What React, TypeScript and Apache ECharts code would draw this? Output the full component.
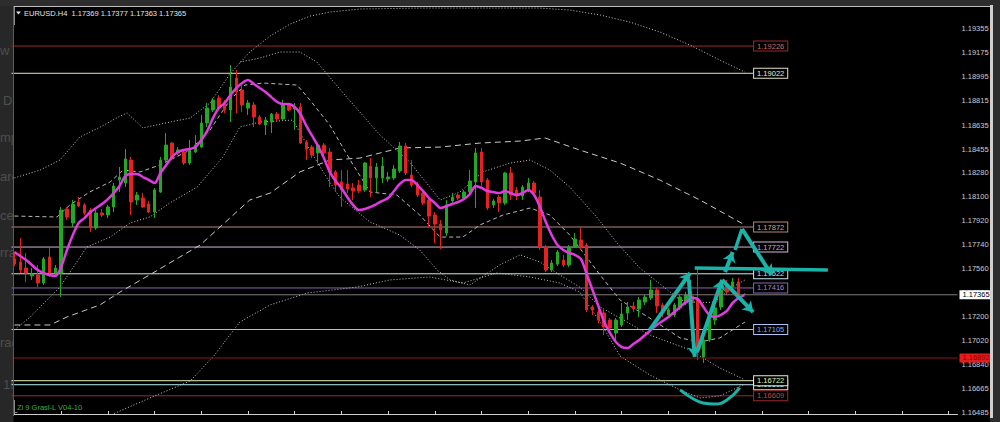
import React, { useEffect, useRef } from "react";
import * as echarts from "echarts";

// ---------- data ----------
const SLOT_COUNT = 162;
const slots = Array.from({ length: SLOT_COUNT }, (_, i) => `${i}`);

// [open, close, low, high]
const candles: number[][] = [
  [1.17633, 1.17595, 1.1758, 1.17685], [1.1761, 1.1755, 1.17528, 1.1779], [1.17565, 1.17528, 1.17461, 1.17678],
  [1.17506, 1.1752, 1.17476, 1.17565], [1.17513, 1.17453, 1.17423, 1.17588], [1.17453, 1.17633, 1.17438, 1.17648],
  [1.17648, 1.17528, 1.17498, 1.17715], [1.17528, 1.17565, 1.17498, 1.17588], [1.17528, 1.17999, 1.17348, 1.18022],
  [1.18007, 1.17947, 1.17924, 1.18022], [1.17902, 1.18044, 1.17872, 1.18074], [1.18059, 1.18029, 1.18022, 1.18096],
  [1.18037, 1.17977, 1.17962, 1.18052], [1.17999, 1.17865, 1.17835, 1.18014], [1.17865, 1.17977, 1.1785, 1.17999],
  [1.17977, 1.17962, 1.17947, 1.18007], [1.17962, 1.18022, 1.17939, 1.18037], [1.18022, 1.18179, 1.17984, 1.18201],
  [1.18224, 1.18246, 1.18134, 1.18321], [1.18201, 1.18381, 1.18171, 1.18455], [1.18373, 1.18059, 1.17962, 1.18396],
  [1.18074, 1.18111, 1.18037, 1.18134], [1.18089, 1.18022, 1.18014, 1.18126], [1.18044, 1.17984, 1.17977, 1.18067],
  [1.17984, 1.18149, 1.17939, 1.18164], [1.18134, 1.18373, 1.18126, 1.18396], [1.18373, 1.18485, 1.18358, 1.18575],
  [1.185, 1.18388, 1.18373, 1.18508], [1.18426, 1.18448, 1.18411, 1.1847], [1.18433, 1.18351, 1.18336, 1.18448],
  [1.18351, 1.18448, 1.18336, 1.18523], [1.18433, 1.18485, 1.18426, 1.1856], [1.1847, 1.1865, 1.18463, 1.1871],
  [1.1865, 1.18762, 1.1862, 1.188], [1.18747, 1.18822, 1.18732, 1.18837], [1.18837, 1.18762, 1.18747, 1.18859],
  [1.18807, 1.18747, 1.18725, 1.18822], [1.18747, 1.18919, 1.18657, 1.19084], [1.18987, 1.18882, 1.18725, 1.19046],
  [1.18897, 1.18785, 1.18732, 1.18934], [1.18762, 1.188, 1.1871, 1.18822], [1.18785, 1.18695, 1.1862, 1.18807],
  [1.18695, 1.18642, 1.18635, 1.1871], [1.18635, 1.18672, 1.1856, 1.18695], [1.18657, 1.18717, 1.18575, 1.18725],
  [1.18717, 1.1868, 1.18665, 1.18732], [1.1868, 1.18785, 1.18672, 1.18822], [1.18785, 1.18747, 1.1874, 1.188],
  [1.18755, 1.1877, 1.18598, 1.188], [1.1877, 1.185, 1.18493, 1.188], [1.18508, 1.18455, 1.18373, 1.18523],
  [1.1847, 1.18411, 1.18388, 1.18485], [1.18426, 1.18485, 1.18358, 1.185], [1.18485, 1.18426, 1.18411, 1.185],
  [1.18433, 1.18284, 1.18171, 1.18463], [1.18284, 1.18186, 1.18134, 1.18298], [1.18209, 1.18149, 1.18022, 1.18298],
  [1.18194, 1.18156, 1.18126, 1.18298], [1.18164, 1.18141, 1.18074, 1.18201], [1.18186, 1.18141, 1.18126, 1.18224],
  [1.18149, 1.18351, 1.18134, 1.18358], [1.18328, 1.18239, 1.18096, 1.18388], [1.18239, 1.18321, 1.18134, 1.18351],
  [1.18239, 1.18328, 1.18201, 1.18396], [1.18231, 1.18246, 1.18209, 1.18284], [1.18239, 1.18306, 1.18224, 1.18336],
  [1.18291, 1.18478, 1.18276, 1.18508], [1.18478, 1.18276, 1.18261, 1.185], [1.18261, 1.18186, 1.18171, 1.18373],
  [1.18194, 1.18111, 1.18096, 1.18209], [1.18126, 1.18052, 1.18037, 1.18134], [1.18074, 1.17954, 1.17872, 1.18089],
  [1.17962, 1.17894, 1.17752, 1.17984], [1.17894, 1.1785, 1.17707, 1.17924], [1.17827, 1.18037, 1.17805, 1.18074],
  [1.18067, 1.18096, 1.18052, 1.18126], [1.18111, 1.18089, 1.18074, 1.18126], [1.18089, 1.18134, 1.18074, 1.18149],
  [1.18134, 1.18216, 1.18111, 1.18298], [1.18209, 1.18426, 1.18014, 1.18463], [1.18433, 1.18209, 1.18171, 1.18463],
  [1.18224, 1.18014, 1.17999, 1.18239], [1.18037, 1.18067, 1.18014, 1.18081], [1.18096, 1.18052, 1.17984, 1.18111],
  [1.18052, 1.18276, 1.18037, 1.18284], [1.18276, 1.18111, 1.18074, 1.18321], [1.18149, 1.18104, 1.18074, 1.18171],
  [1.18104, 1.18171, 1.18074, 1.18186], [1.18149, 1.18201, 1.18134, 1.18239], [1.18201, 1.18126, 1.18104, 1.18216],
  [1.18096, 1.17722, 1.177, 1.18149], [1.17722, 1.1755, 1.17535, 1.17737], [1.1755, 1.17603, 1.17535, 1.17625],
  [1.17595, 1.17685, 1.1758, 1.177], [1.17625, 1.17588, 1.17573, 1.17663], [1.17588, 1.17722, 1.17573, 1.17737],
  [1.17722, 1.17782, 1.17715, 1.17827], [1.17775, 1.17722, 1.177, 1.17872], [1.17737, 1.17251, 1.17236, 1.17752],
  [1.17274, 1.17251, 1.17214, 1.17289], [1.17236, 1.17176, 1.17154, 1.17251], [1.17229, 1.17124, 1.17064, 1.17251],
  [1.17176, 1.17116, 1.17102, 1.17191], [1.17079, 1.17176, 1.17027, 1.17191], [1.17139, 1.17221, 1.17124, 1.17304],
  [1.17229, 1.17274, 1.17176, 1.17311], [1.17281, 1.17259, 1.17236, 1.17311], [1.17259, 1.17326, 1.17199, 1.17348],
  [1.17311, 1.17348, 1.17289, 1.17363], [1.17341, 1.17401, 1.17326, 1.17476], [1.17401, 1.17281, 1.17229, 1.17416],
  [1.17289, 1.17244, 1.17199, 1.17304], [1.17214, 1.17251, 1.17191, 1.17266], [1.17214, 1.17289, 1.17199, 1.17304],
  [1.17266, 1.17348, 1.17251, 1.17363], [1.17304, 1.17363, 1.17289, 1.17386], [1.17356, 1.17304, 1.17281, 1.17386],
  [1.17326, 1.16952, 1.16877, 1.17565], [1.169, 1.17027, 1.16855, 1.17049], [1.17027, 1.17176, 1.17012, 1.17191],
  [1.17176, 1.17266, 1.17139, 1.17289], [1.17274, 1.17401, 1.17251, 1.17438], [1.17438, 1.17386, 1.17363, 1.17476],
  [1.17423, 1.17461, 1.17401, 1.17491], [1.17461, 1.17371, 1.17363, 1.17491], [1.17369, 1.17365, 1.17363, 1.17377],
];

// magenta moving average, one value per candle
const maValues = [
  1.17685, 1.17655, 1.17625, 1.17588, 1.1755, 1.17528, 1.17513, 1.17506, 1.17573, 1.177,
  1.17812, 1.17902, 1.17939, 1.17984, 1.18014, 1.18044, 1.18081, 1.18126, 1.18179, 1.18254,
  1.18269, 1.18269, 1.18246, 1.18224, 1.18201, 1.18276, 1.18336, 1.18396, 1.18433, 1.18448,
  1.18455, 1.1847, 1.18523, 1.1859, 1.18687, 1.18762, 1.188, 1.18859, 1.18912, 1.18949,
  1.18971, 1.18942, 1.18912, 1.18882, 1.18844, 1.18807, 1.18792, 1.18792, 1.1877, 1.18717,
  1.18628, 1.18553, 1.18478, 1.18388, 1.18284, 1.18216, 1.18164, 1.18096, 1.18037, 1.17999,
  1.18007, 1.18022, 1.18044, 1.18067, 1.18089, 1.18141, 1.18194, 1.18224, 1.18224, 1.18186,
  1.18141, 1.18089, 1.18052, 1.18014, 1.18029, 1.18044, 1.18059, 1.18081, 1.18119, 1.18179,
  1.18164, 1.18141, 1.18134, 1.18126, 1.18141, 1.18126, 1.18111, 1.18126, 1.18149, 1.18111,
  1.18022, 1.17909, 1.17812, 1.17737, 1.177, 1.17678, 1.17663, 1.17633, 1.1752, 1.17401,
  1.17281, 1.17161, 1.17079, 1.17012, 1.16974, 1.16967, 1.16997, 1.17027, 1.17064, 1.17102,
  1.17139, 1.17169, 1.17199, 1.17236, 1.17274, 1.17311, 1.17341, 1.17334, 1.17274, 1.17214,
  1.17199, 1.17214, 1.17244, 1.17304, 1.17341, 1.17363,
];

// envelope lines: [bar index, price]
const outerUpper = [
  [0, 1.18239], [4.4, 1.18298], [7.8, 1.18373], [11.2, 1.18545], [14.7, 1.1862], [18.1, 1.18702], [19.3, 1.18725],
  [22.0, 1.18613], [26.6, 1.18657], [30.1, 1.18687], [33.5, 1.188], [36.9, 1.19016], [40.3, 1.19181], [43.8, 1.19301],
  [47.2, 1.1939], [50.6, 1.1945], [54.0, 1.1948], [59.2, 1.19503], [69.4, 1.1951], [79.7, 1.1951], [90.0, 1.1951],
  [95.1, 1.19495], [100.3, 1.19458], [105.4, 1.19405], [110.5, 1.19331], [115.7, 1.19233], [120.8, 1.19121], [125.1, 1.19031],
];
const innerUpper = [
  [38.6, 1.19106], [42.0, 1.19136], [45.5, 1.19181], [48.9, 1.19181], [51.8, 1.19106], [56.6, 1.18859], [62.6, 1.1856],
  [67.7, 1.18358], [72.9, 1.18074], [76.3, 1.18134], [80.2, 1.18284], [84.9, 1.18351], [88.3, 1.18373], [91.7, 1.18298],
  [95.1, 1.18171], [99.7, 1.17947], [103.2, 1.17752], [107.1, 1.17565], [114.0, 1.17326], [117.4, 1.17304], [119.9, 1.17311],
  [123.0, 1.17423], [125.1, 1.17476],
];
const innerLower = [
  [0, 1.17102], [2.7, 1.17199], [7.8, 1.17423], [12.4, 1.17722], [16.4, 1.17797], [19.8, 1.17902], [23.2, 1.17947],
  [26.6, 1.18052], [31.3, 1.18171], [35.7, 1.18396], [38.6, 1.1862], [42.0, 1.18657], [47.7, 1.18672], [50.6, 1.18448],
  [53.2, 1.18261], [55.7, 1.18096], [60.9, 1.17909], [66.0, 1.17812], [69.4, 1.177], [72.4, 1.1755], [74.6, 1.17476],
  [78.0, 1.17438], [83.1, 1.17588], [86.6, 1.17663], [90.0, 1.1761], [93.4, 1.17513], [96.8, 1.17423], [100.3, 1.17274],
  [103.7, 1.17191], [108.8, 1.17064], [115.7, 1.16952], [120.8, 1.16817], [125.1, 1.16728],
];
const innerMiddle = [
  [0, 1.17954], [7.3, 1.17947], [9.5, 1.18037], [12.9, 1.18134], [16.4, 1.18209], [18.6, 1.18298], [21.5, 1.18284],
  [24.9, 1.18336], [30.1, 1.18448], [33.5, 1.18598], [36.9, 1.18822], [39.5, 1.18934], [42.6, 1.18949], [48.4, 1.18934],
  [50.6, 1.18822], [54.0, 1.18635], [57.5, 1.18373], [60.9, 1.18134], [65.5, 1.18111], [69.4, 1.17962], [72.9, 1.17797],
  [76.8, 1.17797], [79.7, 1.17887], [83.7, 1.17962], [88.3, 1.18014], [91.7, 1.17962], [95.1, 1.17812], [100.3, 1.17513],
  [103.7, 1.17326], [108.8, 1.17191], [114.0, 1.17042], [117.4, 1.17012], [120.8, 1.17042], [125.1, 1.17161],
];
const slowMiddle = [
  [0, 1.17139], [6.1, 1.17139], [9.0, 1.17199], [14.65, 1.17289], [18.1, 1.17386], [23.7, 1.17528], [31.8, 1.17737],
  [40.3, 1.18074], [43.8, 1.18126], [48.9, 1.18284], [54.0, 1.18373], [59.2, 1.18388], [66.0, 1.18463], [72.9, 1.1847],
  [79.7, 1.185], [86.6, 1.18515], [90.9, 1.18538], [96.8, 1.18448], [103.7, 1.18351], [110.5, 1.18224], [117.4, 1.18074],
  [125.1, 1.17887],
];
const outerLower = [
  [11.2, 1.16339], [16.9, 1.16473], [23.2, 1.16593], [30.1, 1.1672], [34.3, 1.16915], [38.6, 1.17161], [43.8, 1.17289],
  [50.1, 1.17378], [58.7, 1.17423], [64.3, 1.17476], [71.1, 1.17498], [76.8, 1.17453], [82.6, 1.17528], [88.3, 1.17498],
  [93.4, 1.17453], [96.8, 1.17386], [100.3, 1.17161], [103.7, 1.16907], [108.8, 1.16765], [114.0, 1.16653],
  [117.4, 1.16593], [120.8, 1.16608], [125.1, 1.16698],
];

// horizontal level objects
const levelPrices = [1.19226, 1.19022, 1.17872, 1.17722, 1.17522, 1.17416, 1.17105, 1.16692, 1.16722, 1.16609];
const levelColors = ["#9a2b2b", "#e6e2c4", "#b48a78", "#d8b6d8", "#c6ecec", "#8c62b2", "#a9c4f2", "#b8ecf4", "#e6f0b6", "#9a2b2b"];
const levelTextColors = ["#d06a6a", "#ecebc8", "#d8a684", "#c8a8dc", "#b8e4e4", "#a585cf", "#88aaff", "#b8ecf4", "#eaf2a8", "#c44848"];
const currentPrice = 1.17365;
const redPrice = 1.16892;

const yTicks = [
  1.19355, 1.19175, 1.18995, 1.18815, 1.18635, 1.18455, 1.1828, 1.181, 1.1792, 1.1774, 1.1756, 1.1738,
  1.172, 1.1702, 1.1684, 1.16665, 1.16485,
];
const Y_MIN = 1.16473;
const Y_MAX = 1.19518;

// teal hand-drawn annotations: [bar index, price]
const tealArrows = [
  [[108.8, 1.17102], [115.7, 1.17528]],
  [[115.5, 1.17476], [116.5, 1.169]],
  [[116.9, 1.16937], [121.2, 1.17476]],
  [[121.2, 1.17476], [126.5, 1.17236]],
  [[121.7, 1.17535], [123.0, 1.17685]],
  [[124.6, 1.17857], [129.7, 1.17513]],
];
const tealPlain = [
  [[123.4, 1.177], [124.6, 1.17857]],
  [[116.5, 1.17565], [139.3, 1.1755]],
];
const tealCurve = [[114.0, 1.16653], [116.0, 1.16593], [117.9, 1.16556], [119.9, 1.16548], [122.0, 1.16578], [124.2, 1.16668]];

const headerText = "EURUSD.H4  1.17369 1.17377 1.17363 1.17365";
const footerText = "Zi 9 Grasl-L V04-10";
const sideWords: [string, number, number][] = [
  ["w", 0, 50], ["Dr", 3, 100], ["mp", 0, 137], ["are", 0, 176], ["cer", 0, 215], ["rra", 0, 252], ["rag", 0, 342], ["15", 3, 384],
];

const LEVEL_END = 126.5;
const FONT = "Liberation Sans, Arial, sans-serif";

export default function App() {
  const ref = useRef<HTMLDivElement>(null);
  useEffect(() => {
    if (!ref.current) return;
    const chart = echarts.init(ref.current, undefined, { renderer: "svg" });
    const dotted = (data: number[][], type: any, color = "#c4c4c4") => ({
      type: "line",
      xAxisIndex: 1,
      yAxisIndex: 0,
      data,
      symbol: "none",
      silent: true,
      z: 13,
      lineStyle: { color, width: 1, type },
    });
    const levelSeries = levelPrices.map((p, i) => ({
      type: "line",
      xAxisIndex: 1,
      yAxisIndex: 0,
      data: [[-0.5, p], [LEVEL_END, p]],
      symbol: "none",
      silent: true,
      z: 12,
      lineStyle: { color: levelColors[i], width: 1 },
      endLabel: {
        show: true,
        formatter: () => p.toFixed(5),
        color: levelTextColors[i],
        fontSize: 7.5,
        fontFamily: FONT,
        backgroundColor: "#000",
        borderColor: levelColors[i],
        borderWidth: 1,
        padding: [1, 3, 0, 3],
        distance: 1,
      },
    }));
    const priceLine = (p: number, line: string, bg: string, fg: string) => ({
      type: "line",
      xAxisIndex: 1,
      yAxisIndex: 0,
      data: [[-0.5, p], [SLOT_COUNT - 0.5, p]],
      symbol: "none",
      silent: true,
      z: 19,
      lineStyle: { color: line, width: 1 },
      endLabel: {
        show: true,
        formatter: () => p.toFixed(5),
        color: fg,
        backgroundColor: bg,
        fontSize: 7.5,
        fontFamily: FONT,
        padding: [1, 3, 0, 3],
        distance: 2,
      },
    });
    const option: any = {
      animation: false,
      backgroundColor: "#000",
      grid: { left: 11.5, right: 42.5, top: 7, bottom: 8, containLabel: false },
      xAxis: [
        {
          type: "category",
          data: slots,
          boundaryGap: true,
          axisLine: { show: true, lineStyle: { color: "#cfcfcf", width: 1 } },
          axisTick: {
            show: true,
            inside: true,
            length: 3,
            alignWithLabel: true,
            interval: (i: number) => i > 0 && i % 8 === 0,
            lineStyle: { color: "#cfcfcf" },
          },
          axisLabel: { show: false },
          splitLine: { show: false },
        },
        { type: "value", min: -0.5, max: SLOT_COUNT - 0.5, show: false },
      ],
      yAxis: {
        type: "value",
        position: "right",
        min: Y_MIN,
        max: Y_MAX,
        axisLine: { show: true, lineStyle: { color: "#8e8e8e" } },
        axisTick: { show: true, length: 3, customValues: yTicks, lineStyle: { color: "#8e8e8e" } },
        axisLabel: {
          customValues: yTicks,
          formatter: (v: number) => v.toFixed(5),
          color: "#cccccc",
          fontSize: 7.5,
          fontFamily: FONT,
          margin: 4,
        },
        splitLine: { show: false },
      },
      graphic: [
        { type: "rect", shape: { x: 0, y: 0, width: 13.5, height: 422 }, style: { fill: "#272727" }, z: 1 },
        ...sideWords.map(([t, x, y]) => ({
          type: "text",
          x,
          y,
          z: 2,
          style: { text: t, fill: "#4e4e4e", fontSize: 13, fontFamily: FONT, align: "left", verticalAlign: "middle" },
        })),
        { type: "rect", shape: { x: 13.5, y: 25, width: 40, height: 375 }, style: { fill: "#000" }, z: 3 },
        { type: "rect", shape: { x: 0, y: 0, width: 1000, height: 6 }, style: { fill: "#2d2d2d" }, z: 100 },
        { type: "rect", shape: { x: 990, y: 0, width: 10, height: 422 }, style: { fill: "#2d2d2d" }, z: 100 },
        { type: "rect", shape: { x: 990, y: 5, width: 3, height: 413 }, style: { fill: "#cfcfcf" }, z: 101 },
        { type: "line", shape: { x1: 13.5, y1: 6.5, x2: 990, y2: 6.5 }, style: { stroke: "#bdbdbd", lineWidth: 1 }, z: 101 },
        { type: "line", shape: { x1: 13.5, y1: 6.5, x2: 13.5, y2: 416 }, style: { stroke: "#5a5a5a", lineWidth: 1 }, z: 101 },
        {
          type: "polygon",
          shape: { points: [[16, 11.5], [21, 11.5], [18.5, 14.5]] },
          style: { fill: "#e0e0e0" },
          z: 102,
        },
        {
          type: "text",
          x: 24,
          y: 13,
          z: 102,
          style: { text: headerText, fill: "#e2e2e2", fontSize: 7.5, fontFamily: FONT, verticalAlign: "middle" },
        },
        {
          type: "text",
          x: 17,
          y: 407,
          z: 102,
          style: { text: footerText, fill: "#3fae3f", fontSize: 7.5, fontFamily: FONT, verticalAlign: "middle" },
        },
      ],
      series: [
        dotted(outerUpper, [1, 2]),
        dotted(innerUpper, [1, 2]),
        dotted(innerLower, [1, 2]),
        dotted(outerLower, [1, 2]),
        dotted(innerMiddle, [4, 3], "#b8b8b8"),
        dotted(slowMiddle, [6, 4], "#c8c8c8"),
        ...levelSeries,
        priceLine(currentPrice, "#7c7c7c", "#ffffff", "#000000"),
        priceLine(redPrice, "#8e1616", "#e41c1c", "#8a0000"),
        {
          type: "candlestick",
          xAxisIndex: 0,
          yAxisIndex: 0,
          data: candles,
          barWidth: 3,
          z: 15,
          itemStyle: {
            color: "#22a822",
            color0: "#e52222",
            borderColor: "#22a822",
            borderColor0: "#e52222",
            borderWidth: 1,
          },
        },
        {
          type: "line",
          xAxisIndex: 0,
          yAxisIndex: 0,
          data: maValues,
          symbol: "none",
          smooth: 0.3,
          silent: true,
          z: 16,
          lineStyle: { color: "#e03ae0", width: 2.5 },
        },
        {
          type: "lines",
          coordinateSystem: "cartesian2d",
          xAxisIndex: 1,
          yAxisIndex: 0,
          z: 18,
          symbol: ["none", "arrow"],
          symbolSize: 10,
          silent: true,
          lineStyle: { color: "#1bb3a8", width: 4, opacity: 1, curveness: 0 },
          data: tealArrows.map((c) => ({ coords: c })),
        },
        {
          type: "lines",
          coordinateSystem: "cartesian2d",
          xAxisIndex: 1,
          yAxisIndex: 0,
          z: 18,
          symbol: ["none", "none"],
          silent: true,
          lineStyle: { color: "#1bb3a8", width: 3.5, opacity: 1, curveness: 0 },
          data: tealPlain.map((c) => ({ coords: c })),
        },
        {
          type: "line",
          xAxisIndex: 1,
          yAxisIndex: 0,
          data: tealCurve,
          symbol: "none",
          smooth: true,
          silent: true,
          z: 18,
          lineStyle: { color: "#1bb3a8", width: 3 },
        },
      ],
    };
    chart.setOption(option);
    return () => chart.dispose();
  }, []);
  return (
    <div
      ref={ref}
      style={{ position: "fixed", left: 0, top: 0, width: 1000, height: 422 }}
    />
  );
}
